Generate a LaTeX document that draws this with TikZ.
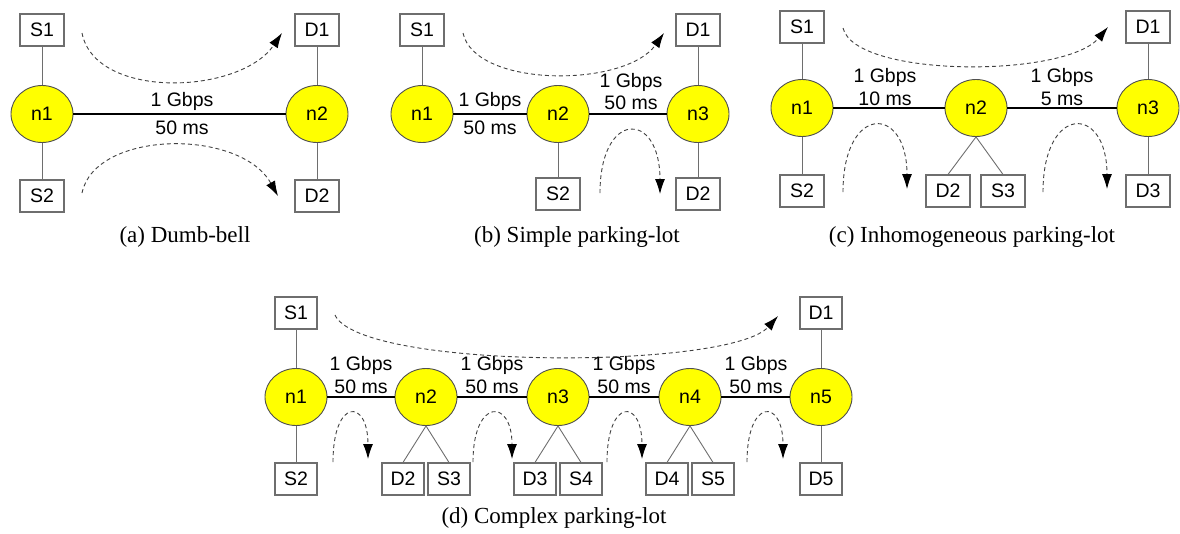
\documentclass[tikz,border=0pt]{standalone}
\usepackage{fontspec}
\setmainfont{Liberation Serif}
\newfontfamily\arialf{Liberation Sans}
\usetikzlibrary{arrows.meta,shapes.geometric}
\definecolor{nodeyellow}{RGB}{255,255,0}
\definecolor{edgegray}{RGB}{80,80,80}
\definecolor{boxgray}{RGB}{110,110,110}
\tikzset{
  router/.style={ellipse,draw=edgegray,line width=0.9pt,fill=nodeyellow,minimum width=62pt,minimum height=57pt,inner sep=0pt,font=\arialf\fontsize{19.5}{22}\selectfont},
  hostbox/.style={rectangle,draw=boxgray,line width=1.1pt,fill=white,minimum width=44pt,minimum height=32pt,inner sep=0pt,font=\arialf\fontsize{19.5}{22}\selectfont},
  access/.style={draw=boxgray,line width=0.9pt},
  bottleneck/.style={draw=black,line width=2.7pt},
  lbl/.style={inner sep=0pt,font=\arialf\fontsize{19.5}{22}\selectfont},
  flow/.style={draw=black!75,line width=0.9pt,dash pattern=on 4pt off 3pt,-{Latex[length=15pt,width=10pt,color=black]}},
  capt/.style={inner sep=0pt,font=\fontsize{23}{26}\selectfont}
}
\begin{document}
\begin{tikzpicture}[x=1pt,y=-1pt]
\useasboundingbox (0,0) rectangle (1180,533);
% ---------- (a) Dumb-bell ----------
\node[router] (an1) at (42,114) {n1};
\node[router] (an2) at (317,114) {n2};
\node[hostbox] (aS1) at (42,30) {S1};
\node[hostbox] (aS2) at (42,196) {S2};
\node[hostbox] (aD1) at (317,30) {D1};
\node[hostbox] (aD2) at (317,196) {D2};
\draw[access] (aS1) -- (an1);
\draw[access] (an1) -- (aS2);
\draw[access] (aD1) -- (an2);
\draw[access] (an2) -- (aD2);
\draw[bottleneck] (an1) -- (an2);
\node[lbl] (al1) at (182,101) {1 Gbps};
\node[lbl] (al2) at (182,128) {50 ms};
\coordinate (afs1) at (82,33);
\coordinate (aft1) at (282,33);
\coordinate (afs2) at (82,193);
\coordinate (aft2) at (278,196);
\draw[flow] (afs1) .. controls (95,100) and (240,95) .. (aft1);
\draw[flow] (afs2) .. controls (95,130) and (240,128) .. (aft2);
\node[capt] (acap) at (185,237) {(a) Dumb-bell};
% ---------- (b) Simple parking-lot ----------
\node[router] (bn1) at (422,114) {n1};
\node[router] (bn2) at (558,114) {n2};
\node[router] (bn3) at (698,114) {n3};
\node[hostbox] (bS1) at (422,30) {S1};
\node[hostbox] (bS2) at (558,194) {S2};
\node[hostbox] (bD1) at (698,30) {D1};
\node[hostbox] (bD2) at (698,194) {D2};
\draw[access] (bS1) -- (bn1);
\draw[access] (bn2) -- (bS2);
\draw[access] (bD1) -- (bn3);
\draw[access] (bn3) -- (bD2);
\draw[bottleneck] (bn1) -- (bn2);
\draw[bottleneck] (bn2) -- (bn3);
\node[lbl] (bl1) at (490,101) {1 Gbps};
\node[lbl] (bl2) at (490,128) {50 ms};
\node[lbl] (bl3) at (631,82) {1 Gbps};
\node[lbl] (bl4) at (631,103) {50 ms};
\coordinate (bfs1) at (463,33);
\coordinate (bft1) at (664,33);
\coordinate (bfs2) at (600,193);
\coordinate (bft2) at (660,194);
\draw[flow] (bfs1) .. controls (475,88) and (625,88) .. (bft1);
\draw[flow] (bfs2) .. controls (600,110) and (660,110) .. (bft2);
\node[capt] (bcap) at (577,237) {(b) Simple parking-lot};
% ---------- (c) Inhomogeneous parking-lot ----------
\node[router] (cn1) at (802,108) {n1};
\node[router] (cn2) at (976,108) {n2};
\node[router] (cn3) at (1148,108) {n3};
\node[hostbox] (cS1) at (802,27) {S1};
\node[hostbox] (cS2) at (802,191) {S2};
\node[hostbox] (cD2) at (948,191) {D2};
\node[hostbox] (cS3) at (1003,191) {S3};
\node[hostbox] (cD1) at (1148,27) {D1};
\node[hostbox] (cD3) at (1148,191) {D3};
\draw[access] (cS1) -- (cn1);
\draw[access] (cn1) -- (cS2);
\draw[access] (cn2.south) -- (cD2.north);
\draw[access] (cn2.south) -- (cS3.north);
\draw[access] (cD1) -- (cn3);
\draw[access] (cn3) -- (cD3);
\draw[bottleneck] (cn1) -- (cn2);
\draw[bottleneck] (cn2) -- (cn3);
\node[lbl] (cl1) at (885,77) {1 Gbps};
\node[lbl] (cl2) at (885,99) {10 ms};
\node[lbl] (cl3) at (1062,77) {1 Gbps};
\node[lbl] (cl4) at (1062,99) {5 ms};
\coordinate (cfs1) at (843,28);
\coordinate (cft1) at (1108,27);
\coordinate (cfs2) at (843,192);
\coordinate (cft2) at (907,189);
\coordinate (cfs3) at (1043,192);
\coordinate (cft3) at (1107,189);
\draw[flow] (cfs1) .. controls (855,78) and (1065,78) .. (cft1);
\draw[flow] (cfs2) .. controls (843,104) and (907,104) .. (cft2);
\draw[flow] (cfs3) .. controls (1043,104) and (1107,104) .. (cft3);
\node[capt] (ccap) at (972,237) {(c) Inhomogeneous parking-lot};
% ---------- (d) Complex parking-lot ----------
\begin{scope}[hostbox/.append style={minimum width=42pt}]
\node[router] (dn1) at (296,397) {n1};
\node[router] (dn2) at (426,397) {n2};
\node[router] (dn3) at (558,397) {n3};
\node[router] (dn4) at (690,397) {n4};
\node[router] (dn5) at (821,397) {n5};
\node[hostbox] (dS1) at (296,313) {S1};
\node[hostbox] (dS2) at (296,479) {S2};
\node[hostbox] (dD2) at (403,479) {D2};
\node[hostbox] (dS3) at (449,479) {S3};
\node[hostbox] (dD3) at (535,479) {D3};
\node[hostbox] (dS4) at (581,479) {S4};
\node[hostbox] (dD4) at (667,479) {D4};
\node[hostbox] (dS5) at (713,479) {S5};
\node[hostbox] (dD1) at (821,313) {D1};
\node[hostbox] (dD5) at (821,479) {D5};
\end{scope}
\draw[access] (dS1) -- (dn1);
\draw[access] (dn1) -- (dS2);
\draw[access] (dn2.south) -- (dD2.north);
\draw[access] (dn2.south) -- (dS3.north);
\draw[access] (dn3.south) -- (dD3.north);
\draw[access] (dn3.south) -- (dS4.north);
\draw[access] (dn4.south) -- (dD4.north);
\draw[access] (dn4.south) -- (dS5.north);
\draw[access] (dD1) -- (dn5);
\draw[access] (dn5) -- (dD5);
\draw[bottleneck] (dn1) -- (dn2);
\draw[bottleneck] (dn2) -- (dn3);
\draw[bottleneck] (dn3) -- (dn4);
\draw[bottleneck] (dn4) -- (dn5);
\node[lbl] (dl1) at (361,365) {1 Gbps};
\node[lbl] (dl2) at (361,387) {50 ms};
\node[lbl] (dl3) at (492,365) {1 Gbps};
\node[lbl] (dl4) at (492,387) {50 ms};
\node[lbl] (dl5) at (624,365) {1 Gbps};
\node[lbl] (dl6) at (624,387) {50 ms};
\node[lbl] (dl7) at (756,365) {1 Gbps};
\node[lbl] (dl8) at (756,387) {50 ms};
\coordinate (dfs0) at (335,315);
\coordinate (dft0) at (778,316);
\draw[flow] (dfs0) .. controls (360,370) and (730,370) .. (dft0);
\coordinate (dfs1) at (333,462);
\coordinate (dft1) at (368,459);
\coordinate (dfs2) at (473,462);
\coordinate (dft2) at (512,459);
\coordinate (dfs3) at (607,462);
\coordinate (dft3) at (642,459);
\coordinate (dfs4) at (747,462);
\coordinate (dft4) at (783,459);
\draw[flow] (dfs1) .. controls (333,398) and (368,398) .. (dft1);
\draw[flow] (dfs2) .. controls (473,398) and (512,398) .. (dft2);
\draw[flow] (dfs3) .. controls (607,398) and (642,398) .. (dft3);
\draw[flow] (dfs4) .. controls (747,398) and (783,398) .. (dft4);
\node[capt] (dcap) at (554,518) {(d) Complex parking-lot};
\end{tikzpicture}
\end{document}
